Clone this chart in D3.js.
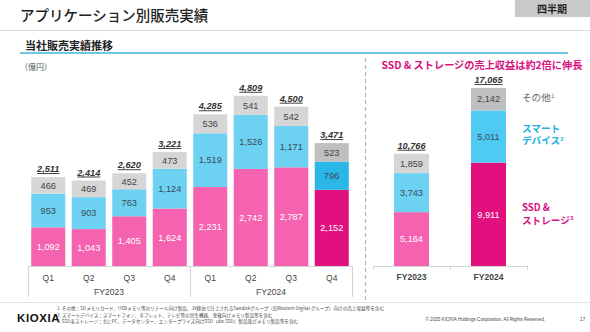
<!DOCTYPE html>
<html>
<head>
<meta charset="utf-8">
<script src="https://cdn.jsdelivr.net/npm/d3@7"></script>
<style>
  html, body { margin: 0; padding: 0; background: #fff; }
  svg { display: block; }
  text { font-family: "Liberation Sans", Arial, sans-serif; }
  .jp { font-family: "Noto Sans CJK JP", "Noto Sans", sans-serif; }
</style>
</head>
<body>
<svg id="chart" width="590" height="332"></svg>
<script>
// Quarterly sales by application (億円)
const quarters = ["Q1", "Q2", "Q3", "Q4", "Q1", "Q2", "Q3", "Q4"];
const quarterYears = ["FY2023", "FY2023", "FY2023", "FY2023", "FY2024", "FY2024", "FY2024", "FY2024"];
const qSsd   = [1092, 1043, 1405, 1624, 2231, 2742, 2787, 2152];
const qSmart = [953, 903, 763, 1124, 1519, 1526, 1171, 796];
const qOther = [466, 469, 452, 473, 536, 541, 542, 523];
const qTotal = [2511, 2414, 2620, 3221, 4285, 4809, 4500, 3471];

// Full-year sales
const years = ["FY2023", "FY2024"];
const ySsd   = [5164, 9911];
const ySmart = [3743, 5011];
const yOther = [1859, 2142];
const yTotal = [10766, 17065];

const footnotes = [
  "1. その他：SDメモリカード、USBメモリ等のリテール向け製品、JV経由で計上されるSandiskグループ（旧Western Digital グループ）向けの売上収益等を含む",
  "2. スマートデバイス：スマートフォン、タブレット、テレビ等の民生機器、車載向けメモリ製品等を含む",
  "3. SSD＆ストレージ：主にPC、データセンター、エンタープライズ向けSSD（die SSD）製品及びメモリ製品等を含む"
];

const svg = d3.select("#chart");
const fmt = d3.format(",");

const col = {
  ssd: "#f562b0", smart: "#6dd2f2", other: "#d6d6d6",
  ssdHi: "#e2107f", smartHi: "#2bb6e8", smartHi2: "#4fcaf2", otherHi: "#bfbfbf",
  magenta: "#d6127f", cyanText: "#22b2e4"
};

// ---- header ----
svg.append("text").attr("class", "jp").attr("x", 20).attr("y", 21)
  .attr("font-size", 14.5).attr("font-weight", 500).attr("fill", "#222")
  .text("アプリケーション別販売実績");
svg.append("rect").attr("x", 515).attr("y", 0).attr("width", 75).attr("height", 17).attr("fill", "#c9c9c9");
svg.append("text").attr("class", "jp").attr("x", 552).attr("y", 12.5).attr("text-anchor", "middle")
  .attr("font-size", 10).attr("font-weight", 700).attr("fill", "#222").text("四半期");
svg.append("line").attr("x1", 0).attr("x2", 590).attr("y1", 30.5).attr("y2", 30.5)
  .attr("stroke", "#d9d9d9").attr("stroke-width", 1);
svg.append("text").attr("class", "jp").attr("x", 25).attr("y", 50)
  .attr("font-size", 11).attr("font-weight", 700).attr("fill", "#222").text("当社販売実績推移");
svg.append("line").attr("x1", 20).attr("x2", 568).attr("y1", 53).attr("y2", 53)
  .attr("stroke", "#3eb4dc").attr("stroke-width", 1.5);
svg.append("text").attr("class", "jp").attr("x", 20).attr("y", 70)
  .attr("font-size", 8).attr("fill", "#555").text("（億円）");

// ---- stacked bar helper ----
function drawStack(g, x, y, keys, data, colors, textColors, totals) {
  keys.forEach((k, i) => {
    let base = 0;
    data.forEach((series, si) => {
      const v = series[i];
      const y0 = y(base), y1 = y(base + v);
      g.append("rect")
        .attr("x", x(k)).attr("width", x.bandwidth())
        .attr("y", y1).attr("height", y0 - y1)
        .attr("fill", colors[si](i));
      g.append("text")
        .attr("x", x(k) + x.bandwidth() / 2).attr("y", (y0 + y1) / 2 + 3.3)
        .attr("text-anchor", "middle").attr("font-size", 9.2)
        .attr("fill", textColors[si]).text(fmt(v));
      base += v;
    });
    g.append("text")
      .attr("x", x(k) + x.bandwidth() / 2).attr("y", y(totals[i]) - 5)
      .attr("text-anchor", "middle").attr("font-size", 9.2)
      .attr("font-weight", 700).attr("font-style", "italic")
      .attr("text-decoration", "underline").attr("fill", "#333")
      .text(fmt(totals[i]));
  });
}

// ---- quarterly chart ----
const baseY = 266;
const qKeys = quarters.map((q, i) => quarterYears[i] + "-" + q);
const xq = d3.scaleBand().domain(qKeys).range([28, 352]).paddingInner(0.16).paddingOuter(0.08);
const yq = d3.scaleLinear().domain([0, 5000]).range([baseY, baseY - 177]);
const gq = svg.append("g");
const lastQ = qKeys.length - 1;
drawStack(gq, xq, yq, qKeys, [qSsd, qSmart, qOther],
  [i => i === lastQ ? col.ssdHi : col.ssd,
   i => i === lastQ ? col.smartHi : col.smart,
   i => i === lastQ ? col.otherHi : col.other],
  ["#fff", "#3a4a55", "#444"], qTotal);

// quarterly axis
const axq = svg.append("g").attr("stroke", "#d4d4d4").attr("stroke-width", 1);
axq.append("line").attr("x1", 28).attr("x2", 352).attr("y1", baseY + 0.5).attr("y2", baseY + 0.5);
const fyGroups = d3.groups(qKeys, (k, i) => quarterYears[i]);
const groupBounds = fyGroups.map(([fy, ks]) => [fy, xq(ks[0]) - xq.step() * xq.paddingInner() / 2, xq(ks[ks.length - 1]) + xq.bandwidth() + xq.step() * xq.paddingInner() / 2]);
const edges = [28, ...groupBounds.slice(0, -1).map(b => b[2]), 352];
edges.forEach(xv => axq.append("line").attr("x1", Math.round(xv) + 0.5).attr("x2", Math.round(xv) + 0.5).attr("y1", baseY).attr("y2", 297));
qKeys.forEach((k, i) => {
  svg.append("text").attr("x", xq(k) + xq.bandwidth() / 2).attr("y", 280.5)
    .attr("text-anchor", "middle").attr("font-size", 8.5).attr("fill", "#444").text(quarters[i]);
});
groupBounds.forEach(([fy], gi) => {
  svg.append("text").attr("x", (edges[gi] + edges[gi + 1]) / 2).attr("y", 295)
    .attr("text-anchor", "middle").attr("font-size", 8.5).attr("fill", "#444").text(fy);
});

// divider
svg.append("line").attr("x1", 365.5).attr("x2", 365.5).attr("y1", 58).attr("y2", 300)
  .attr("stroke", "#b5b5b5").attr("stroke-width", 1.2).attr("stroke-dasharray", "4,3");

// ---- annual chart ----
const xy = d3.scaleBand().domain(years).range([373, 527]).paddingInner(0.5455).paddingOuter(0.2727);
const yy = d3.scaleLinear().domain([0, 20000]).range([baseY, baseY - 208.6]);
const gy = svg.append("g");
drawStack(gy, xy, yy, years, [ySsd, ySmart, yOther],
  [i => i === 1 ? col.ssdHi : col.ssd,
   i => i === 1 ? col.smartHi2 : col.smart,
   i => i === 1 ? col.otherHi : col.other],
  ["#fff", "#3a4a55", "#444"], yTotal);

const axy = svg.append("g").attr("stroke", "#d4d4d4").attr("stroke-width", 1);
axy.append("line").attr("x1", 373).attr("x2", 527).attr("y1", baseY + 0.5).attr("y2", baseY + 0.5);
[373, 450, 527].forEach(xv => axy.append("line").attr("x1", xv + 0.5).attr("x2", xv + 0.5).attr("y1", baseY).attr("y2", baseY + 4));
years.forEach(fy => {
  svg.append("text").attr("x", xy(fy) + xy.bandwidth() / 2).attr("y", 280)
    .attr("text-anchor", "middle").attr("font-size", 8.5).attr("font-weight", 700).attr("fill", "#444").text(fy);
});

svg.append("text").attr("class", "jp").attr("x", 482).attr("y", 69)
  .attr("text-anchor", "middle").attr("font-size", 10.2).attr("font-weight", 700)
  .attr("fill", col.magenta).text("SSD & ストレージの売上収益は約2倍に伸長");

// legend labels beside the annual bars (each line its own text, superscript as a separate small text)
function legendLine(txt, y, color, weight, sup) {
  const t = svg.append("text").attr("class", "jp").attr("x", 522).attr("y", y)
    .attr("font-size", 9.6).attr("font-weight", weight).attr("fill", color).text(txt);
  if (sup) {
    const w = t.node().getComputedTextLength();
    svg.append("text").attr("x", 522 + w + 0.5).attr("y", y - 3.5)
      .attr("font-size", 5.5).attr("font-weight", weight).attr("fill", color).text(sup);
  }
}
legendLine("その他", 101, "#666", 400, "1");
legendLine("スマート", 131.5, col.cyanText, 700);
legendLine("デバイス", 144, col.cyanText, 700, "2");
legendLine("SSD &", 211, col.magenta, 700);
legendLine("ストレージ", 223.5, col.magenta, 700, "3");

// ---- footer ----
svg.append("line").attr("x1", 0).attr("x2", 590).attr("y1", 302.5).attr("y2", 302.5).attr("stroke", "#e2e2e2");
svg.append("text").attr("x", 17).attr("y", 322).attr("font-size", 11.5).attr("font-weight", 700)
  .attr("letter-spacing", 0.6).attr("fill", "#111").text("KIOXIA");
footnotes.forEach((f, i) => {
  svg.append("text").attr("class", "jp").attr("x", 57).attr("y", 310 + i * 6.5)
    .attr("font-size", 4.6).attr("fill", "#444").text(f);
});
svg.append("text").attr("x", 545).attr("y", 321).attr("text-anchor", "end")
  .attr("font-size", 4.6).attr("fill", "#444")
  .text("© 2025 KIOXIA Holdings Corporation. All Rights Reserved.");
svg.append("text").attr("x", 580).attr("y", 321).attr("font-size", 4.8).attr("fill", "#444").text("17");
</script>
</body>
</html>
